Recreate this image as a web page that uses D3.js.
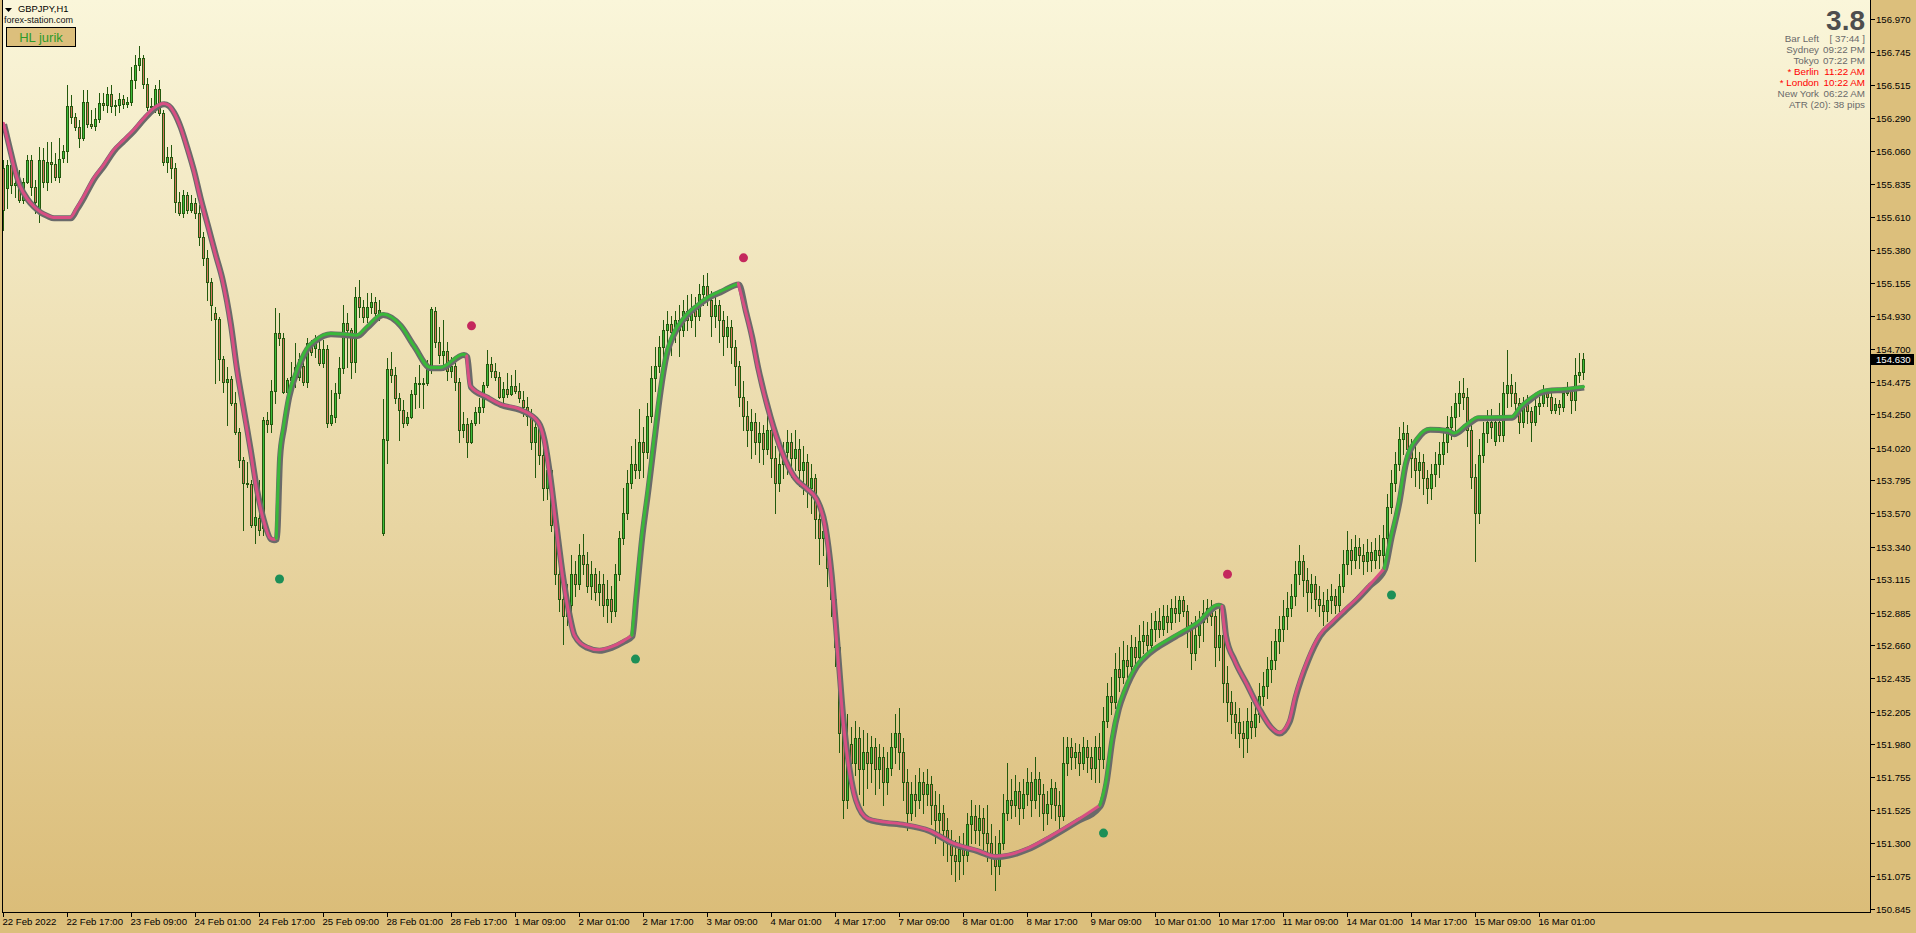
<!DOCTYPE html>
<html><head><meta charset="utf-8">
<script src="https://cdn.jsdelivr.net/npm/d3@7"></script>
<style>
html,body{margin:0;padding:0;background:#dcbf7c;overflow:hidden}
svg{display:block}
text{font-family:"Liberation Sans",Arial,sans-serif}
</style></head><body>
<svg id="chart" width="1916" height="933"></svg>
<script>
// ---------- DATA (GBPJPY H1) ----------
const opens = [
155.944,155.807,155.965,155.827,155.841,155.724,155.848,155.999,155.813,155.669,
155.999,155.848,155.985,155.972,155.882,156.013,156.061,156.371,156.295,156.226,
156.151,156.398,156.247,156.233,156.281,156.391,156.378,156.453,156.371,156.378,
156.419,156.385,156.398,156.550,156.653,156.701,156.522,156.364,156.371,156.488,
156.323,155.985,156.020,155.944,155.710,155.634,155.758,155.655,155.703,155.634,
155.470,155.325,155.160,154.947,154.905,154.630,154.472,154.492,154.327,154.128,
153.935,153.777,153.770,153.488,153.536,153.467,154.210,154.183,154.410,154.809,
154.775,154.403,154.486,154.506,154.506,154.582,154.472,154.713,154.706,154.699,
154.603,154.699,154.190,154.231,154.396,154.568,154.878,154.830,154.609,155.057,
154.988,154.919,154.988,155.022,154.947,153.433,154.073,154.561,154.520,154.362,
154.279,154.190,154.231,154.389,154.465,154.458,154.465,154.561,154.960,154.747,
154.658,154.685,154.548,154.582,154.472,154.142,154.183,154.059,154.190,154.265,
154.300,154.451,154.596,154.548,154.506,154.369,154.424,154.389,154.444,154.410,
154.35,154.30,154.24,154.06,154.16,153.97,153.74,153.87,153.49,153.15,
152.98,152.86,152.94,153.15,153.08,153.28,153.22,153.07,153.15,153.03,
153.08,152.94,152.98,152.90,153.15,153.40,153.57,153.78,153.91,153.87,
154.06,153.99,154.24,154.50,154.58,154.71,154.83,154.87,154.82,154.90,
154.83,154.96,154.90,154.98,154.93,155.08,155.13,155.04,154.93,155.00,
154.90,154.79,154.85,154.71,154.58,154.37,154.24,154.14,154.20,154.06,
154.12,154.01,154.14,153.95,153.78,153.91,153.99,154.06,153.95,154.01,
153.87,153.92,153.74,153.81,153.53,153.40,153.45,153.19,152.98,152.65,
152.06,151.60,151.98,151.85,152.02,151.81,151.93,151.85,151.96,151.81,
151.89,151.72,151.82,151.96,152.06,151.93,151.72,151.51,151.64,151.60,
151.72,151.64,151.71,151.56,151.46,151.51,151.39,151.30,151.22,151.18,
151.26,151.22,151.43,151.49,151.39,151.47,151.37,151.30,151.22,151.14,
151.30,151.51,151.60,151.56,151.66,151.54,151.64,151.72,151.60,151.74,
151.64,151.51,151.57,151.68,151.56,151.49,151.85,151.96,151.89,151.93,
151.85,151.96,151.89,151.82,151.96,151.88,152.14,152.31,152.27,152.50,
152.44,152.56,152.52,152.65,152.58,152.69,152.73,152.66,152.77,152.83,
152.77,152.86,152.82,152.92,152.88,152.97,152.90,152.77,152.61,152.73,
152.82,152.88,152.92,152.86,152.65,152.73,152.40,152.27,152.19,152.13,
152.06,152.02,152.14,152.10,152.19,152.31,152.38,152.50,152.56,152.69,
152.77,152.86,152.92,153.00,153.15,153.24,153.11,153.03,153.08,152.98,
152.94,152.90,152.97,153.00,152.94,153.07,153.22,153.32,153.25,153.34,
153.28,153.24,153.30,153.25,153.32,153.28,153.40,153.61,153.78,153.91,
154.08,154.12,154.01,153.95,153.87,153.92,153.81,153.74,153.84,153.91,
153.98,154.06,154.16,154.23,154.33,154.40,154.37,154.14,153.82,153.57,
153.97,154.12,154.20,154.07,154.20,154.11,154.40,154.45,154.40,154.33,
154.20,154.33,154.27,154.20,154.31,154.33,154.40,154.37,154.28,154.32,
154.30,154.40,154.42,154.35,154.52,154.54
];
const highs = [
155.999,155.999,156.020,155.882,155.930,155.875,156.034,156.034,155.862,156.089,
156.082,156.123,156.123,156.047,156.151,156.102,156.515,156.446,156.323,156.274,
156.481,156.481,156.343,156.357,156.460,156.460,156.501,156.515,156.412,156.460,
156.446,156.433,156.639,156.722,156.784,156.722,156.563,156.426,156.515,156.550,
156.343,156.089,156.102,155.979,155.779,155.793,155.779,155.758,155.738,155.690,
155.504,155.380,155.187,154.988,154.919,154.651,154.575,154.513,154.403,154.155,
153.956,153.921,153.798,153.798,153.798,154.231,154.265,154.486,154.981,154.947,
154.809,154.499,154.609,154.740,154.671,154.644,154.775,154.761,154.795,154.775,
154.761,154.726,154.417,154.465,154.644,155.002,154.947,154.843,155.125,155.174,
155.036,155.084,155.084,155.057,155.036,154.355,154.637,154.678,154.575,154.396,
154.348,154.265,154.417,154.506,154.589,154.499,154.623,154.988,154.988,154.850,
154.898,154.747,154.644,154.603,154.499,154.265,154.224,154.210,154.300,154.362,
154.472,154.692,154.644,154.603,154.541,154.472,154.534,154.520,154.554,154.465,
154.41,154.37,154.29,154.20,154.18,154.03,153.91,153.89,153.53,153.22,
153.07,153.08,153.28,153.24,153.36,153.43,153.30,153.24,153.19,153.17,
153.15,153.11,153.07,153.22,153.45,153.74,153.87,154.03,154.08,154.29,
154.16,154.33,154.58,154.71,154.79,154.90,154.96,154.93,154.96,155.00,
155.04,155.07,155.08,155.06,155.15,155.21,155.22,155.10,155.07,155.04,
154.96,154.93,154.90,154.76,154.62,154.48,154.34,154.29,154.26,154.20,
154.18,154.24,154.18,154.03,154.01,154.06,154.14,154.12,154.14,154.08,
154.03,153.98,153.91,153.84,153.61,153.55,153.49,153.28,153.05,152.69,
152.14,152.19,152.10,152.14,152.10,152.08,152.06,152.04,152.02,151.98,
151.96,151.93,152.06,152.19,152.23,152.02,151.81,151.72,151.77,151.82,
151.79,151.81,151.76,151.66,151.64,151.56,151.47,151.39,151.32,151.35,
151.37,151.51,151.60,151.56,151.56,151.54,151.56,151.43,151.35,151.39,
151.64,151.85,151.74,151.77,151.72,151.74,151.82,151.79,151.89,151.79,
151.71,151.66,151.74,151.72,151.66,152.03,152.03,152.02,151.99,151.98,
152.03,152.01,151.96,152.04,152.06,152.24,152.40,152.44,152.61,152.65,
152.69,152.66,152.73,152.72,152.80,152.83,152.82,152.88,152.90,152.92,
152.94,152.94,152.98,153.00,153.00,153.00,152.94,152.82,152.86,152.90,
152.97,152.98,152.97,152.90,152.92,152.77,152.52,152.35,152.27,152.23,
152.14,152.23,152.27,152.30,152.40,152.48,152.58,152.69,152.77,152.86,
152.97,153.03,153.08,153.24,153.35,153.28,153.19,153.15,153.14,153.07,
153.03,153.05,153.08,153.05,153.15,153.32,153.45,153.39,153.42,153.40,
153.36,153.39,153.37,153.40,153.42,153.49,153.70,153.87,153.99,154.16,
154.20,154.18,154.08,154.03,153.99,153.98,153.87,153.91,153.99,154.06,
154.14,154.24,154.31,154.40,154.48,154.50,154.43,154.20,153.91,154.08,
154.20,154.28,154.29,154.22,154.33,154.47,154.69,154.53,154.47,154.36,
154.37,154.38,154.30,154.40,154.37,154.45,154.42,154.42,154.36,154.35,
154.43,154.47,154.44,154.64,154.67,154.67
];
const lows = [
155.518,155.669,155.772,155.745,155.710,155.703,155.841,155.758,155.634,155.573,
155.813,155.793,155.848,155.862,155.848,155.985,155.985,156.254,156.206,156.089,
156.137,156.226,156.219,156.206,156.261,156.343,156.329,156.329,156.309,156.329,
156.357,156.364,156.378,156.495,156.618,156.495,156.343,156.329,156.329,156.309,
155.965,155.917,155.875,155.641,155.621,155.607,155.634,155.641,155.600,155.414,
155.277,155.036,154.898,154.465,154.486,154.403,154.176,154.314,154.114,153.887,
153.454,153.749,153.474,153.364,153.419,153.419,154.128,154.128,154.327,154.726,
154.396,154.382,154.437,154.437,154.486,154.451,154.437,154.658,154.644,154.589,
154.575,154.162,154.176,154.197,154.362,154.534,154.575,154.499,154.541,154.919,
154.885,154.885,154.947,154.919,154.898,153.419,153.915,154.472,154.327,154.073,
154.162,154.176,154.224,154.293,154.300,154.293,154.451,154.534,154.713,154.603,
154.554,154.486,154.506,154.417,154.059,154.093,153.956,154.052,154.176,154.190,
154.265,154.437,154.506,154.486,154.362,154.334,154.369,154.382,154.396,154.334,
154.24,154.18,154.01,153.82,153.91,153.66,153.67,153.45,153.08,152.90,
152.67,152.80,152.90,153.00,153.05,153.15,153.03,152.98,152.97,152.94,
152.86,152.82,152.82,152.86,153.11,153.36,153.53,153.74,153.81,153.81,
153.82,153.95,154.20,154.41,154.54,154.62,154.71,154.66,154.75,154.65,
154.79,154.83,154.85,154.79,154.90,155.00,155.00,154.79,154.85,154.75,
154.66,154.71,154.60,154.45,154.31,154.14,154.03,153.95,153.98,153.92,
153.91,153.98,153.82,153.57,153.72,153.81,153.84,153.82,153.87,153.76,
153.70,153.61,153.57,153.40,153.22,153.28,153.07,152.86,152.52,151.93,
151.47,151.54,151.72,151.77,151.64,151.56,151.68,151.72,151.64,151.68,
151.56,151.64,151.77,151.85,151.81,151.60,151.39,151.46,151.49,151.54,
151.51,151.56,151.43,151.30,151.35,151.22,151.18,151.09,151.04,151.05,
151.09,151.18,151.30,151.30,151.29,151.26,151.18,151.09,150.98,151.09,
151.26,151.46,151.47,151.49,151.43,151.47,151.56,151.49,151.54,151.49,
151.39,151.43,151.47,151.46,151.39,151.46,151.77,151.81,151.82,151.77,
151.81,151.79,151.74,151.72,151.72,151.82,152.10,152.19,152.23,152.35,
152.40,152.44,152.48,152.50,152.55,152.61,152.58,152.63,152.69,152.72,
152.73,152.75,152.77,152.82,152.83,152.86,152.65,152.50,152.56,152.65,
152.69,152.82,152.80,152.52,152.56,152.27,152.14,152.06,152.02,151.96,
151.89,151.93,152.02,152.04,152.13,152.25,152.30,152.41,152.50,152.61,
152.69,152.77,152.86,152.94,153.08,153.00,152.90,152.92,152.90,152.86,
152.80,152.83,152.88,152.88,152.90,153.03,153.15,153.15,153.19,153.19,
153.15,153.17,153.17,153.19,153.19,153.22,153.36,153.57,153.72,153.87,
153.98,153.92,153.82,153.76,153.74,153.70,153.64,153.67,153.76,153.82,
153.91,153.99,154.08,154.14,154.24,154.29,154.03,153.74,153.24,153.50,
153.92,154.06,154.09,154.04,154.07,154.07,154.30,154.31,154.26,154.12,
154.16,154.19,154.07,154.18,154.25,154.31,154.31,154.26,154.26,154.25,
154.27,154.38,154.26,154.28,154.47,154.49
];
const closes = [
155.655,155.965,155.827,155.841,155.724,155.848,155.999,155.813,155.710,155.999,
155.848,155.985,155.972,155.882,156.006,156.061,156.371,156.295,156.226,156.151,
156.398,156.247,156.233,156.281,156.391,156.378,156.453,156.371,156.378,156.419,
156.385,156.398,156.550,156.653,156.701,156.522,156.364,156.371,156.488,156.323,
155.985,156.020,155.944,155.710,155.634,155.758,155.655,155.703,155.634,155.470,
155.325,155.160,155.002,154.905,154.630,154.472,154.492,154.327,154.128,153.935,
153.777,153.770,153.488,153.543,153.454,154.210,154.183,154.410,154.809,154.775,
154.403,154.486,154.506,154.575,154.630,154.472,154.740,154.678,154.740,154.603,
154.699,154.190,154.245,154.396,154.568,154.878,154.830,154.609,155.057,154.988,
154.919,154.988,155.022,154.947,154.967,154.080,154.561,154.520,154.362,154.279,
154.190,154.231,154.389,154.465,154.458,154.465,154.561,154.974,154.747,154.658,
154.685,154.548,154.582,154.472,154.142,154.183,154.059,154.190,154.265,154.300,
154.451,154.596,154.548,154.506,154.369,154.424,154.389,154.444,154.410,154.362,
154.30,154.24,154.06,154.16,153.97,153.74,153.87,153.49,153.15,152.98,
152.86,152.94,153.15,153.08,153.28,153.22,153.07,153.15,153.03,153.08,
152.94,152.98,152.90,153.15,153.40,153.57,153.78,153.91,153.87,154.06,
153.99,154.24,154.50,154.58,154.71,154.83,154.87,154.82,154.90,154.83,
154.96,154.90,154.98,154.93,155.08,155.13,155.04,154.93,155.00,154.90,
154.79,154.85,154.71,154.58,154.37,154.24,154.14,154.20,154.06,154.12,
154.01,154.14,153.95,153.78,153.91,153.99,154.06,153.95,154.01,153.87,
153.92,153.74,153.81,153.53,153.40,153.45,153.19,152.98,152.65,152.06,
151.60,151.98,151.85,152.02,151.81,151.93,151.85,151.96,151.81,151.89,
151.72,151.82,151.96,152.06,151.93,151.72,151.51,151.64,151.60,151.72,
151.64,151.71,151.56,151.46,151.51,151.39,151.30,151.22,151.18,151.26,
151.22,151.43,151.49,151.39,151.47,151.37,151.30,151.22,151.14,151.30,
151.51,151.60,151.56,151.66,151.54,151.64,151.72,151.60,151.74,151.64,
151.51,151.57,151.68,151.56,151.49,151.85,151.96,151.89,151.93,151.85,
151.96,151.89,151.82,151.96,151.88,152.14,152.31,152.27,152.50,152.44,
152.56,152.52,152.65,152.58,152.69,152.73,152.66,152.77,152.83,152.77,
152.86,152.82,152.92,152.88,152.97,152.90,152.77,152.61,152.73,152.82,
152.88,152.92,152.86,152.65,152.73,152.40,152.27,152.19,152.13,152.06,
152.02,152.14,152.10,152.19,152.31,152.38,152.50,152.56,152.69,152.77,
152.86,152.92,153.00,153.15,153.24,153.11,153.03,153.08,152.98,152.94,
152.90,152.97,153.00,152.94,153.07,153.22,153.32,153.25,153.34,153.28,
153.24,153.30,153.25,153.32,153.28,153.40,153.61,153.78,153.91,154.08,
154.12,154.01,153.95,153.87,153.92,153.81,153.74,153.84,153.91,153.98,
154.06,154.16,154.23,154.33,154.40,154.37,154.14,153.82,153.57,153.97,
154.12,154.20,154.16,154.20,154.11,154.40,154.45,154.40,154.33,154.20,
154.33,154.27,154.20,154.31,154.33,154.40,154.37,154.28,154.32,154.30,
154.40,154.42,154.35,154.52,154.54,154.63
];

// time labels every 16 bars
const timeLabels = ["22 Feb 2022","22 Feb 17:00","23 Feb 09:00","24 Feb 01:00","24 Feb 17:00",
  "25 Feb 09:00","28 Feb 01:00","28 Feb 17:00","1 Mar 09:00","2 Mar 01:00","2 Mar 17:00",
  "3 Mar 09:00","4 Mar 01:00","4 Mar 17:00","7 Mar 09:00","8 Mar 01:00","8 Mar 17:00",
  "9 Mar 09:00","10 Mar 01:00","10 Mar 17:00","11 Mar 09:00","14 Mar 01:00","14 Mar 17:00",
  "15 Mar 09:00","16 Mar 01:00"];
const labelEvery = 16;

const priceTicks = [156.970,156.745,156.515,156.290,156.060,155.835,155.610,155.380,155.155,
  154.930,154.700,154.475,154.250,154.020,153.795,153.570,153.340,153.115,152.885,152.660,
  152.435,152.205,151.980,151.755,151.525,151.300,151.075,150.845];
const lastPrice = 154.630;
const priceMin = 150.8262, priceMax = 157.1007;

// HL jurik line (bar index, value)
const jurikBars = [0,0.8,1.7,2.5,3.3,4.2,5.8,7.5,9.2,10.8,12.5,16.7,18.3,20,22.5,25,27.5,30,32.5,35,
  37.5,40,41.2,42.5,44.2,45.8,47.5,49.2,51,53,54.7,56.7,58.3,60,61.7,63.3,65,66.7,67.5,68.2,
  69.0,70.0,71.25,73.3,75.8,77.9,81.7,85,88.3,90.8,94.8,99.2,102.5,106.7,109.2,115,115.8,116.7,
  120.8,124.2,129.2,133.6,135.1,136.6,138.1,139.7,141.2,142.7,145.8,148.8,151.9,154.9,157.1,
  158.0,159.5,161.1,162.6,164.1,165.6,167.2,170.2,173.3,176.3,179.4,183.7,
  185.5,187.0,188.5,191.6,194.6,197.7,200.8,203.2,205.3,206.9,208.4,209.9,211.4,213.0,216.0,
  219.1,225.2,231.3,237.4,243.5,248.1,251.2,255.7,261.9,268.0,274.1,
  275.6,277.1,278.7,280.2,283.2,286.3,292.4,298.5,303.7,304.6,
  305.5,307.7,310.7,313.8,316.8,318.9,321.4,322.9,326.0,329.0,332.1,335.1,338.2,341.3,345.2,
  346.8,348.9,350.4,353.5,356.5,361.1,362.6,365.7,368.7,372,377,379.2,381.7,384.2,386,390,395];
const jurikValues = [156.252,156.160,156.056,155.965,155.884,155.816,155.738,155.683,155.643,155.621,
  155.605,155.605,155.669,155.747,155.873,155.965,156.068,156.137,156.206,156.286,
  156.355,156.389,156.378,156.332,156.228,156.091,155.930,155.736,155.552,155.346,155.174,154.876,
  154.554,154.279,154.004,153.729,153.522,153.397,153.390,153.397,
  153.958,154.164,154.371,154.554,154.704,154.761,154.807,154.802,154.795,154.852,154.940,154.864,
  154.726,154.573,154.573,154.664,154.651,154.444,
  154.371,154.320,154.284,154.20,154.08,153.82,153.49,153.15,152.90,152.73,152.65,152.63,152.65,
  152.69,152.73,
  152.98,153.40,153.74,154.08,154.41,154.66,154.79,154.92,155.00,155.06,155.10,155.15,
  154.96,154.79,154.58,154.24,153.99,153.82,153.74,153.67,153.49,153.15,152.65,152.14,151.81,151.60,
  151.47,151.45,151.43,151.39,151.30,151.25,151.21,151.22,151.26,151.35,151.45,151.56,
  151.72,152.02,152.23,152.35,152.52,152.61,152.72,152.82,152.94,152.93,
  152.73,152.56,152.40,152.23,152.10,152.06,152.14,152.31,152.56,152.73,152.82,152.90,152.98,
  153.07,153.19,
  153.40,153.66,153.91,154.09,154.15,154.14,154.12,154.18,154.23,154.23,154.233,154.302,154.360,
  154.405,154.417,154.424,154.440];
// trend switch points of the line (bar index) and direction of each segment
const trendBreaks = [68.2, 115.8, 157.1, 183.7, 274.1, 304.6, 345.2];
const trendDirs = ["down","up","down","up","down","up","down","up"];

// signal dots
const signalBars = [69, 117, 158, 185, 275, 306, 347];
const signalPrices = [153.117, 154.859, 152.566, 155.327, 151.369, 153.150, 153.007];
const signalTypes = ["up","down","up","down","up","down","up"];

// info panel
const spreadText = "3.8";
const infoLabels = ["Bar Left","Sydney","Tokyo","* Berlin","* London","New York"];
const infoValues = ["[ 37:44 ]","09:22 PM","07:22 PM","11:22 AM","10:22 AM","06:22 AM"];
const infoOpen = [false,false,false,true,true,false];
const atrText = "ATR (20): 38 pips";
const symbolText = "GBPJPY,H1";
const siteText = "forex-station.com";
const buttonText = "HL jurik";

// ---------- DRAW ----------
const svg = d3.select("#chart");
const PL = 2, PR = 1870, PT = 0, PB = 912;
const n = closes.length;
const x = d3.scaleLinear().domain([0, n - 1]).range([3.5, 3.5 + 4 * (n - 1)]);
const y = d3.scaleLinear().domain([priceMin, priceMax]).range([PB, PT]);

const COL = {
  outer: "#dcbf7c", wick: "#235a0e", bull: "#3dbb3a", bear: "#d2735c",
  lineUp: "#3ab83a", lineDn: "#d84f83", shadow: "#6a6a6a",
  dotUp: "#1d8f57", dotDn: "#c4285d"
};

const defs = svg.append("defs");
const grad = defs.append("linearGradient").attr("id","bg").attr("x1",0).attr("y1",0).attr("x2",0).attr("y2",1);
grad.append("stop").attr("offset","0%").attr("stop-color","#faf6da");
grad.append("stop").attr("offset","100%").attr("stop-color","#dbbd79");
const clip = defs.append("clipPath").attr("id","plotclip");
clip.append("rect").attr("x",PL+1).attr("y",PT).attr("width",PR-PL-1).attr("height",PB-PT);

svg.append("rect").attr("width",1916).attr("height",933).attr("fill",COL.outer);
svg.append("rect").attr("x",PL).attr("y",PT).attr("width",PR-PL).attr("height",PB-PT).attr("fill","url(#bg)");

// candles
const cg = svg.append("g").attr("shape-rendering","crispEdges").attr("clip-path","url(#plotclip)");
for (let i = 0; i < n; i++) {
  const o = opens[i], c = closes[i];
  const h = Math.max(highs[i], o, c), l = Math.min(lows[i], o, c);
  const cx = x(i);
  const yh = Math.round(y(h)), yl = Math.round(y(l));
  cg.append("rect").attr("x",cx-0.5).attr("y",yh).attr("width",1).attr("height",yl-yh+1).attr("fill",COL.wick);
  const yt = Math.round(y(Math.max(o,c))), yb = Math.round(y(Math.min(o,c)));
  cg.append("rect").attr("x",cx-1.5).attr("y",yt).attr("width",3).attr("height",yb-yt+1).attr("fill",COL.wick);
  if (yb - yt >= 2) {
    cg.append("rect").attr("x",cx-0.5).attr("y",yt+1).attr("width",1).attr("height",yb-yt-1)
      .attr("fill", c >= o ? COL.bull : COL.bear);
  }
}

// jurik line
const pts = jurikBars.map((b,i)=>[b, jurikValues[i]]);
const line = d3.line().x(d=>x(d[0])).y(d=>y(d[1])).curve(d3.curveMonotoneX);
const lg = svg.append("g").attr("clip-path","url(#plotclip)");
lg.append("path").attr("d",line(pts)).attr("fill","none").attr("stroke",COL.shadow)
  .attr("stroke-width",6).attr("stroke-linejoin","round").attr("transform","translate(0.6,0.9)");
const bounds = [jurikBars[0], ...trendBreaks, jurikBars[jurikBars.length-1]];
for (let k = 0; k < bounds.length - 1; k++) {
  const seg = pts.filter(p => p[0] >= bounds[k] && p[0] <= bounds[k+1]);
  lg.append("path").attr("d",line(seg)).attr("fill","none")
    .attr("stroke", trendDirs[k] === "up" ? COL.lineUp : COL.lineDn)
    .attr("stroke-width",3).attr("stroke-linejoin","round").attr("stroke-linecap","round");
}

// signal dots
svg.append("g").selectAll("circle").data(signalBars).join("circle")
  .attr("cx",(d)=>x(d)).attr("cy",(d,i)=>y(signalPrices[i])).attr("r",4.5)
  .attr("fill",(d,i)=>signalTypes[i]==="up"?COL.dotUp:COL.dotDn);

// frame
const fg = svg.append("g").attr("shape-rendering","crispEdges");
fg.append("rect").attr("x",PL).attr("y",PT).attr("width",1).attr("height",PB-PT+1).attr("fill","#000");
fg.append("rect").attr("x",PR).attr("y",PT).attr("width",1).attr("height",PB-PT+1).attr("fill","#000");
fg.append("rect").attr("x",PL).attr("y",PB).attr("width",PR-PL+1).attr("height",1).attr("fill","#000");

// price axis
const ya = svg.append("g");
priceTicks.forEach(v => {
  const py = Math.round(y(v));
  ya.append("rect").attr("x",PR+1).attr("y",py).attr("width",4).attr("height",1).attr("fill","#000").attr("shape-rendering","crispEdges");
  ya.append("text").attr("x",PR+6).attr("y",py+3.5).attr("font-size","9.6px").attr("fill","#000").text(v.toFixed(3));
});
const lpY = Math.round(y(lastPrice));
ya.append("rect").attr("x",PR+1).attr("y",lpY-5).attr("width",43).attr("height",11).attr("fill","#000");
ya.append("text").attr("x",PR+6).attr("y",lpY+3.5).attr("font-size","9.6px").attr("fill","#fff").text(lastPrice.toFixed(3));

// time axis
const xa = svg.append("g");
timeLabels.forEach((t,k) => {
  const tx = x(k*labelEvery);
  xa.append("rect").attr("x",tx-0.5).attr("y",PB+1).attr("width",1).attr("height",4).attr("fill","#000").attr("shape-rendering","crispEdges");
  xa.append("text").attr("x",tx-1).attr("y",PB+13).attr("font-size","9.6px").attr("fill","#000").text(t);
});

// top-left labels
svg.append("path").attr("d","M5,8 L12,8 L8.5,12 Z").attr("fill","#000");
svg.append("text").attr("x",18).attr("y",11.5).attr("font-size","9.4px").attr("fill","#000").text(symbolText);
svg.append("text").attr("x",4).attr("y",22.5).attr("font-size","9px").attr("fill","#111").text(siteText);
svg.append("rect").attr("x",6.5).attr("y",27.5).attr("width",69).attr("height",19).attr("fill","#dcbf7c")
  .attr("stroke","#000").attr("stroke-width",1);
svg.append("text").attr("x",41).attr("y",42).attr("text-anchor","middle").attr("font-size","13px").attr("fill","#2e9a2a").text(buttonText);

// info panel
svg.append("text").attr("x",1865).attr("y",30).attr("text-anchor","end").attr("font-size","28px")
  .attr("font-weight","bold").attr("fill","#4e4e4e").text(spreadText);
infoLabels.forEach((lab,i) => {
  const ty = 42 + i*11;
  const col = infoOpen[i] ? "#ff0000" : "#6a6a6a";
  svg.append("text").attr("x",1819).attr("y",ty).attr("text-anchor","end").attr("font-size","9.8px").attr("fill",col).text(lab);
  svg.append("text").attr("x",1865).attr("y",ty).attr("text-anchor","end").attr("font-size","9.8px").attr("fill",col).text(infoValues[i]);
});
svg.append("text").attr("x",1865).attr("y",42+6*11).attr("text-anchor","end").attr("font-size","9.8px").attr("fill","#6a6a6a").text(atrText);
</script>
</body></html>
